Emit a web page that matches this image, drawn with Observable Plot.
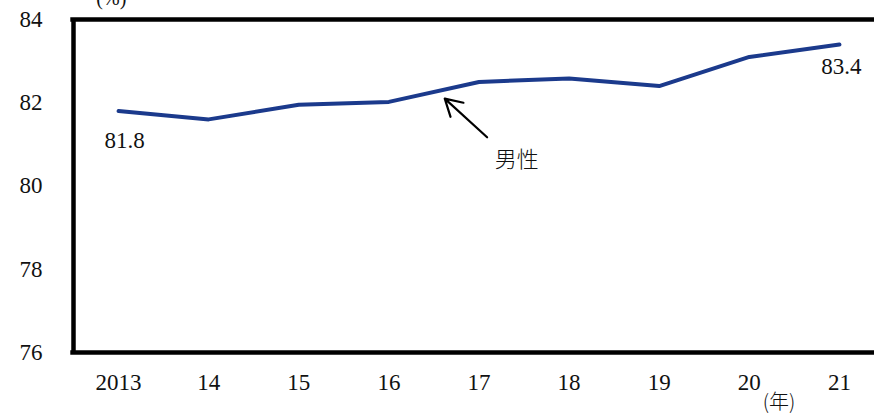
<!DOCTYPE html>
<html><head><meta charset="utf-8">
<script src="https://cdn.jsdelivr.net/npm/d3@7"></script>
<script src="https://cdn.jsdelivr.net/npm/@observablehq/plot@0.6"></script>
<style>
html,body{margin:0;padding:0;background:#fff;overflow:hidden;}
svg{overflow:visible;}
</style></head>
<body><div id="chart"></div>
<script>
const years = [2013, 2014, 2015, 2016, 2017, 2018, 2019, 2020, 2021];
const yearLabels = ["2013", "14", "15", "16", "17", "18", "19", "20", "21"];
const male = [81.8, 81.6, 81.95, 82.02, 82.5, 82.58, 82.4, 83.1, 83.4];
const yTicks = [76, 78, 80, 82, 84];
const firstLabel = [{x: 2013, y: 81.8, t: "81.8"}];
const lastLabel = [{x: 2021, y: 83.4, t: "83.4"}];
const arrowData = [{x1: 2017.09, y1: 81.17, x2: 2016.62, y2: 82.1}];
const seriesLabel = [{x: 2017.42, y: 80.63, t: "男性"}];

const data = years.map((y, i) => ({year: y, v: male[i]}));
const font = "'Liberation Serif', 'Noto Sans CJK JP', serif";

const chart = Plot.plot({
  width: 874, height: 415,
  marginLeft: 73, marginTop: 19, marginBottom: 63, marginRight: 0,
  style: {fontFamily: font, fontSize: "22px", color: "#111", background: "#fff"},
  x: {domain: [2012.5, 2021.5], range: [73, 884], axis: null},
  y: {domain: [76, 84], axis: null},
  marks: [
    Plot.line(data, {x: "year", y: "v", stroke: "#1b3a8c", strokeWidth: 4}),
    Plot.ruleX([2012.5], {y1: 76, y2: 84, stroke: "#000", strokeWidth: 4.5}),
    Plot.ruleY([84, 76], {x1: 2012.47, x2: 2021.5, stroke: "#000", strokeWidth: 4.5}),
    Plot.text(yTicks, {x: 2012.5, y: d => d, text: d => String(d), dx: -31, textAnchor: "end", fontSize: 23}),
    Plot.text(years, {x: d => d, y: 76, text: (d, i) => yearLabels[i], dy: 30, fontSize: 23}),
    Plot.text(["(年)"], {x: 2020.33, y: 76, dy: 50, fontSize: 20, fontFamily: "'Noto Sans CJK JP', serif", fontWeight: 300}),
    Plot.text(["(%)"], {x: 2012.92, y: 84.5, fontSize: 20}),
    Plot.text(firstLabel, {x: "x", y: "y", text: "t", dx: 6, dy: 30, fontSize: 23, letterSpacing: "1px"}),
    Plot.text(lastLabel, {x: "x", y: "y", text: "t", dx: 2, dy: 22, fontSize: 23, letterSpacing: "1px"}),
    Plot.arrow(arrowData, {x1: "x1", y1: "y1", x2: "x2", y2: "y2", stroke: "#000", strokeWidth: 2.2, headLength: 14}),
    Plot.text(seriesLabel, {x: "x", y: "y", text: "t", fontSize: 22, fontFamily: "'Noto Sans CJK JP', sans-serif", fontWeight: 300})
  ]
});
document.getElementById("chart").appendChild(chart);
</script></body></html>
